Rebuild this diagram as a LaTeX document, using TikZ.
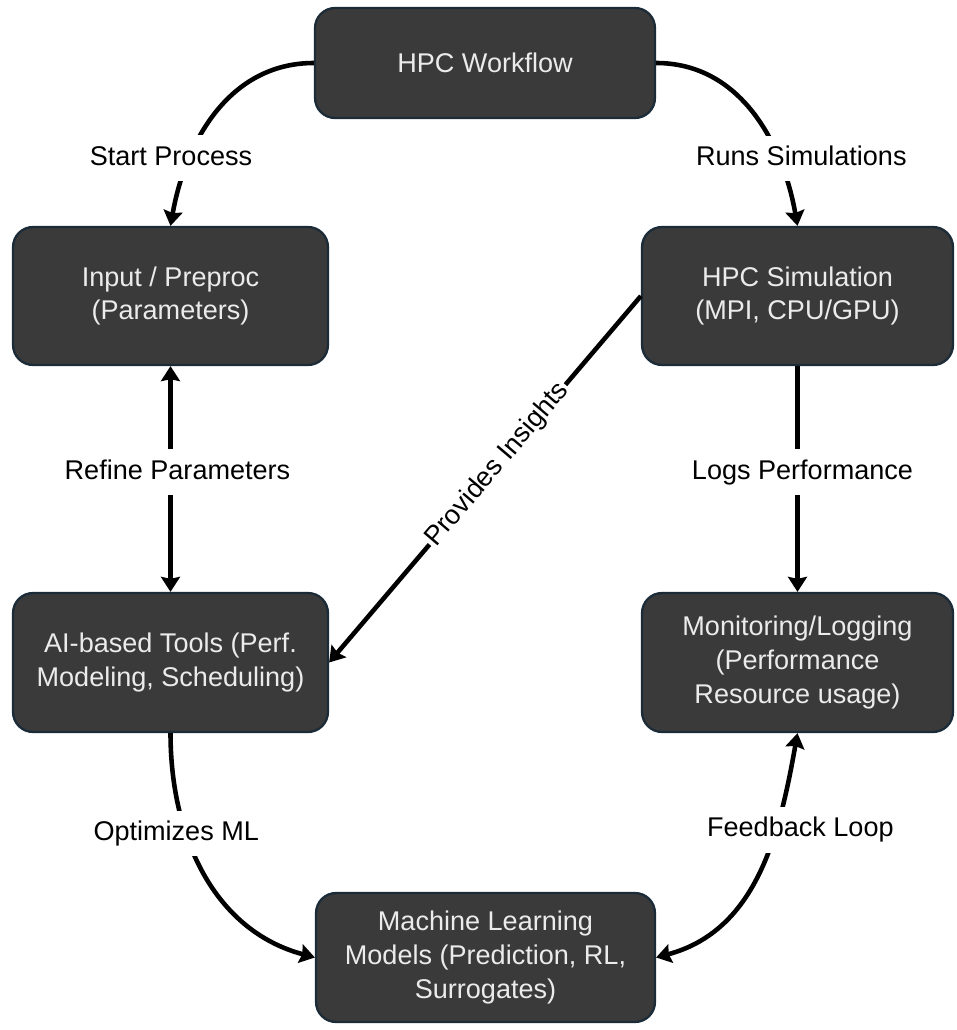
\documentclass[tikz,border=0pt]{standalone}
\usepackage{fontspec}
\setmainfont{Liberation Sans}
\usetikzlibrary{arrows.meta}
\definecolor{boxfill}{HTML}{3A3A3A}
\definecolor{boxline}{HTML}{1C2B38}
\definecolor{boxtext}{HTML}{EBEBEB}

\begin{document}
\begin{tikzpicture}[x=0.02cm, y=0.02cm,
  box/.style={draw=boxline, line width=1.3pt, fill=boxfill, text=boxtext,
    rounded corners=0.4cm, align=center, inner sep=0pt,
    font=\fontsize{15.4}{19.3}\selectfont},
  flow/.style={line width=2.6pt, >={Stealth[length=0.3cm, width=0.38cm, inset=0.04cm]}},
  lbl/.style={fill=white, text=black, inner xsep=1pt, inner ysep=5.5pt,
    text height=11.5pt, text depth=3.5pt, font=\fontsize{15.4}{19.3}\selectfont}]
\useasboundingbox (0,0) rectangle (956,-1030);
% boxes
\node[box, minimum width=6.8cm, minimum height=2.2cm] (wf) at (485,-63) {HPC Workflow};
\node[box, minimum width=6.3cm, minimum height=2.76cm] (inp) at (170.5,-296) {Input / Preproc\\(Parameters)};
\node[box, minimum width=6.22cm, minimum height=2.76cm] (sim) at (797.5,-296) {HPC Simulation\\(MPI, CPU/GPU)};
\node[box, minimum width=6.3cm, minimum height=2.78cm] (ai) at (170.5,-662.5) {AI-based Tools (Perf.\\Modeling, Scheduling)};
\node[box, minimum width=6.22cm, minimum height=2.78cm] (mon) at (797.5,-662.5) {Monitoring/Logging\\(Performance\\Resource usage)};
\node[box, minimum width=6.78cm, minimum height=2.58cm] (ml) at (485.5,-957.5) {Machine Learning\\Models (Prediction, RL,\\Surrogates)};
% connectors
\draw[flow, ->] (wf.west) to[out=180, in=80] node[lbl, pos=.72, xshift=-0.38cm] {Start Process} (inp.north);
\draw[flow, ->] (wf.east) to[out=0, in=100] node[lbl, pos=.72, xshift=0.46cm] {Runs Simulations} (sim.north);
\draw[flow, <->] (inp.south) -- node[lbl, pos=.47, xshift=0.14cm] {Refine Parameters} (ai.north);
\draw[flow, ->] (sim.south) -- node[lbl, pos=.47, xshift=0.1cm] {Logs Performance} (mon.north);
\draw[flow, ->] (sim.west) -- node[lbl, sloped, pos=.46] {Provides Insights} (ai.east);
\draw[flow, ->] (ai.south) to[out=-90, in=165] node[lbl, pos=.34, xshift=-0.2cm] {Optimizes ML} (ml.west);
\draw[flow, <->] (ml.east) to[out=15, in=-100] node[lbl, pos=.67, xshift=0.5cm] {Feedback Loop} (mon.south);
\end{tikzpicture}
\end{document}
